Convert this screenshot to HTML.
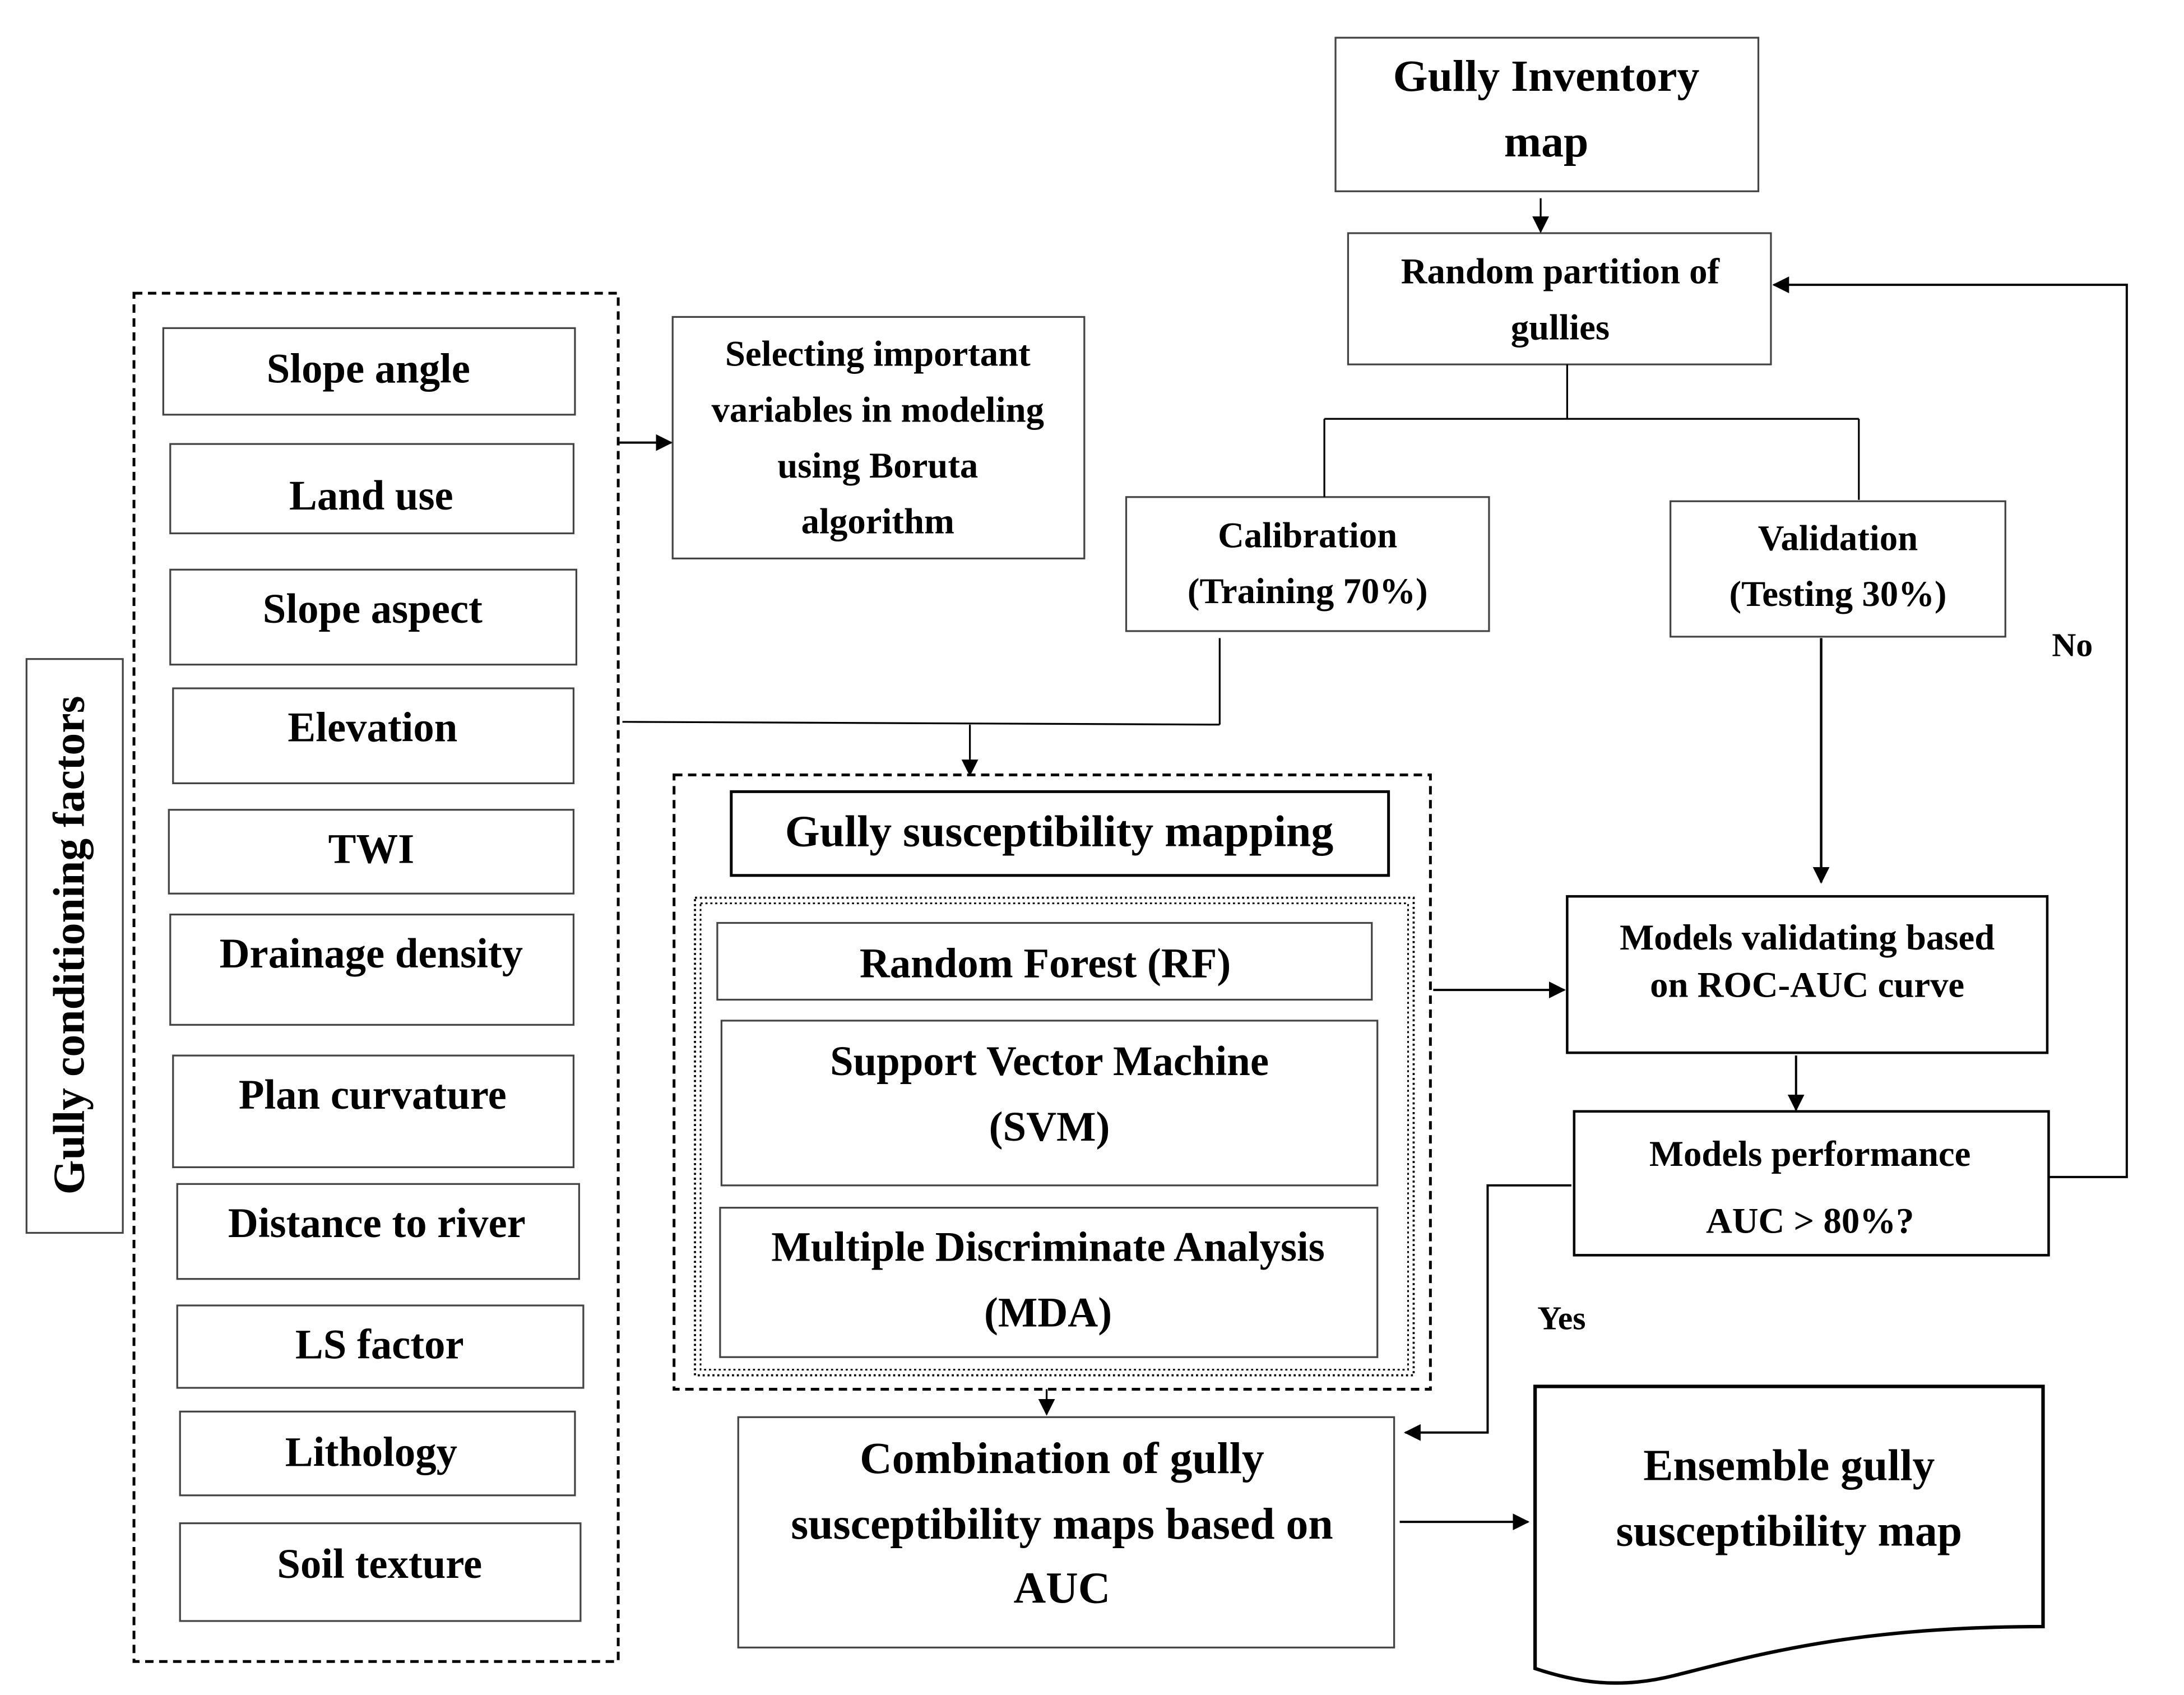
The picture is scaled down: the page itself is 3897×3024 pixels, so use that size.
<!DOCTYPE html>
<html><head><meta charset="utf-8"><style>
html,body{margin:0;padding:0;background:#fff;}
svg{display:block;}
text{font-family:"Liberation Serif",serif;font-weight:bold;fill:#000;text-anchor:middle;}
</style></head><body>
<svg width="3897" height="3024" viewBox="0 0 1565 1214" preserveAspectRatio="none" xmlns="http://www.w3.org/2000/svg">
<defs>
<marker id="a" markerWidth="12" markerHeight="12" refX="11" refY="6" orient="auto" markerUnits="userSpaceOnUse">
<path d="M0,0 L12,6 L0,12 Z" fill="#000"/></marker>
</defs>
<g fill="none" stroke="#000" stroke-width="1.3">
<rect x="957" y="27" width="303" height="110" stroke="#444"/>
<rect x="966" y="167" width="303" height="94" stroke="#444"/>
<rect x="807" y="356" width="260" height="96" stroke="#444"/>
<rect x="1197" y="359" width="240" height="97" stroke="#444"/>
<rect x="96" y="210" width="347" height="980" stroke-dasharray="6,4" stroke-width="2"/>
<rect x="117" y="235" width="295" height="62" stroke="#444"/>
<rect x="122" y="318" width="289" height="64" stroke="#444"/>
<rect x="122" y="408" width="291" height="68" stroke="#444"/>
<rect x="124" y="493" width="287" height="68" stroke="#444"/>
<rect x="121" y="580" width="290" height="60" stroke="#444"/>
<rect x="122" y="655" width="289" height="79" stroke="#444"/>
<rect x="124" y="756" width="287" height="80" stroke="#444"/>
<rect x="127" y="848" width="288" height="68" stroke="#444"/>
<rect x="127" y="935" width="291" height="59" stroke="#444"/>
<rect x="129" y="1011" width="283" height="60" stroke="#444"/>
<rect x="129" y="1091" width="287" height="70" stroke="#444"/>
<rect x="19" y="472" width="69" height="411" stroke="#444"/>
<rect x="482" y="227" width="295" height="173" stroke="#444"/>
<rect x="483" y="555" width="542" height="440" stroke-dasharray="6,4" stroke-width="2"/>
<rect x="524" y="567" width="471" height="60" stroke-width="2"/>
<rect x="498" y="643" width="515" height="342" stroke-dasharray="1.5,2" stroke-width="1.5"/>
<rect x="502" y="647" width="507" height="334" stroke-dasharray="1.5,2" stroke-width="1.2"/>
<rect x="514" y="661" width="469" height="55" stroke="#444"/>
<rect x="517" y="731" width="470" height="118" stroke="#444"/>
<rect x="516" y="865" width="471" height="107" stroke="#444"/>
<rect x="1123" y="642" width="344" height="112" stroke-width="1.8"/>
<rect x="1128" y="796" width="340" height="103" stroke-width="1.8"/>
<rect x="529" y="1015" width="470" height="165" stroke="#444"/>
<path d="M1100,993 L1464,993 L1464,1165 C1330,1165 1260,1185 1200,1200 C1160,1210 1130,1205 1100,1195 Z" stroke-width="2.5"/>
<line x1="1104" y1="142" x2="1104" y2="166" marker-end="url(#a)"/>
<path d="M1123,261 V300 M949,300 H1332 M949,300 V356 M1332,300 V358"/>
<path d="M1468,843 H1524 V204 H1271" marker-end="url(#a)" stroke-width="1.6"/>
<line x1="443" y1="317" x2="481" y2="317" marker-end="url(#a)" stroke-width="1.6"/>
<path d="M446,517 L874,519 M874,457 V519"/>
<path d="M695,519 V555" marker-end="url(#a)"/>
<line x1="1027" y1="709" x2="1121" y2="709" marker-end="url(#a)" stroke-width="1.6"/>
<line x1="1305" y1="457" x2="1305" y2="632" marker-end="url(#a)" stroke-width="1.8"/>
<line x1="1287" y1="756" x2="1287" y2="795" marker-end="url(#a)" stroke-width="1.6"/>
<path d="M1126,849 H1066 V1026 H1007" marker-end="url(#a)" stroke-width="1.6"/>
<line x1="750" y1="995" x2="750" y2="1013" marker-end="url(#a)"/>
<line x1="1003" y1="1090" x2="1095" y2="1090" marker-end="url(#a)" stroke-width="1.6"/>
</g>
<g font-size="32">
<text x="1108" y="65">Gully Inventory</text>
<text x="1108" y="112">map</text>
</g>
<g font-size="26">
<text x="1118" y="203">Random partition of</text>
<text x="1118" y="243">gullies</text>
<text x="937" y="392">Calibration</text>
<text x="937" y="432">(Training 70%)</text>
<text x="1317" y="394">Validation</text>
<text x="1317" y="434">(Testing 30%)</text>
<text x="629" y="262">Selecting important</text>
<text x="629" y="302">variables in modeling</text>
<text x="629" y="342">using Boruta</text>
<text x="629" y="382">algorithm</text>
<text x="1295" y="680">Models validating based</text>
<text x="1295" y="714">on ROC-AUC curve</text>
<text x="1297" y="835">Models performance</text>
<text x="1297" y="883">AUC &gt; 80%?</text>
</g>
<g font-size="24">
<text x="1485" y="470">No</text>
<text x="1119" y="952">Yes</text>
</g>
<g font-size="30">
<text x="264" y="274">Slope angle</text>
<text x="266" y="365">Land use</text>
<text x="267" y="446">Slope aspect</text>
<text x="267" y="531">Elevation</text>
<text x="266" y="618">TWI</text>
<text x="266" y="693">Drainage density</text>
<text x="267" y="794">Plan curvature</text>
<text x="270" y="886">Distance to river</text>
<text x="272" y="973">LS factor</text>
<text x="266" y="1050">Lithology</text>
<text x="272" y="1130">Soil texture</text>
<text x="749" y="700">Random Forest  (RF)</text>
<text x="752" y="770">Support Vector Machine</text>
<text x="752" y="817">(SVM)</text>
<text x="751" y="903">Multiple Discriminate Analysis</text>
<text x="751" y="950">(MDA)</text>
</g>
<g font-size="32">
<text x="759" y="606">Gully susceptibility mapping</text>
<text x="761" y="1055">Combination of gully</text>
<text x="761" y="1102">susceptibility maps based on</text>
<text x="761" y="1148">AUC</text>
<text x="1282" y="1060">Ensemble gully</text>
<text x="1282" y="1107">susceptibility map</text>
<text x="0" y="0" transform="translate(60,677) rotate(-90)">Gully conditioning factors</text>
</g>
</svg>
</body></html>
